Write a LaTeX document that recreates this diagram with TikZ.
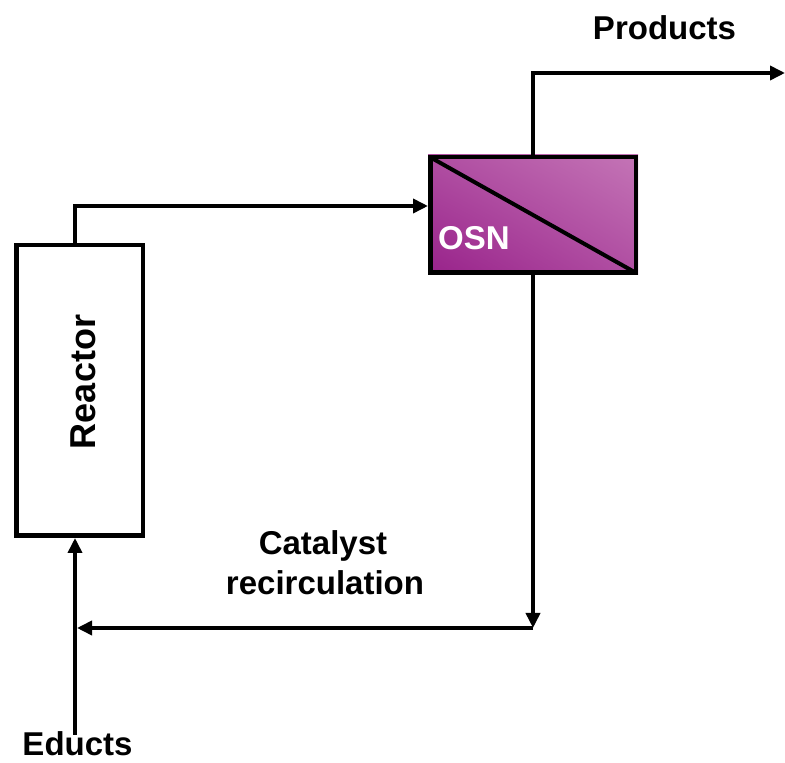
\documentclass[tikz,border=0pt]{standalone}
\usepackage{fontspec}
\setmainfont{Liberation Sans}
\usetikzlibrary{arrows.meta,shadings}
\definecolor{osndark}{HTML}{98228A}
\definecolor{osnmid}{HTML}{B04EA2}
\definecolor{osnlight}{HTML}{C475B6}
\tikzset{
  flow/.style={line width=3.6pt, -{Triangle[length=15pt,width=14pt]}},
  unit/.style={draw, line width=4.5pt, inner sep=0pt},
  lbl/.style={font=\bfseries\fontsize{33}{40}\selectfont, inner sep=0pt, anchor=base},
}
\begin{document}
\begin{tikzpicture}[x=1pt,y=1pt]
\useasboundingbox (0,0) rectangle (785,763);
% Reactor
\node[unit, minimum width=126.5pt, minimum height=290.5pt] (reactor) at (79.5,372.5) {};
\node[lbl, anchor=center, rotate=90, font=\bfseries\fontsize{36}{40}\selectfont] (reactorlbl) at (83,381) {Reactor};
% OSN
\shade[lower left=osndark, upper right=osnlight, upper left=osnmid, lower right=osnmid]
  (428,488) rectangle (638,608);
\begin{scope}
\clip (428,488) rectangle (638,608);
\draw[line width=4pt] (430.25,605.75) -- (635.75,490.25);
\end{scope}
\node[unit, minimum width=205.5pt, minimum height=115.5pt] (osn) at (533,548) {};
\node[lbl, anchor=base west, text=white] (osnlbl) at (438,513) {OSN};
% coordinates
\coordinate (rtop) at (75,520);
\coordinate (bend1) at (75,557);
\coordinate (prodbend) at (533,690);
\coordinate (prodend) at (785,690);
\coordinate (retbend) at (533,135);
\coordinate (retend) at (77,135);
\coordinate (edstart) at (75,28);
\coordinate (rbot) at (75,225);
% connectors
\draw[flow] (rtop) -- (bend1) -- (bend1 -| osn.west);
\draw[flow] (osn.north) -- (prodbend) -- (prodend);
\draw[flow] (osn.south) -- (retbend);
\draw[flow] (retbend) -- (retend);
\draw[flow] (edstart) -- (rbot);
% labels
\node[lbl] (products) at (664.5,723) {Products};
\node[lbl] (educts) at (77.5,7) {Educts};
\node[lbl] (cat1) at (323,208) {Catalyst};
\node[lbl] (cat2) at (325,168) {recirculation};
\end{tikzpicture}
\end{document}
